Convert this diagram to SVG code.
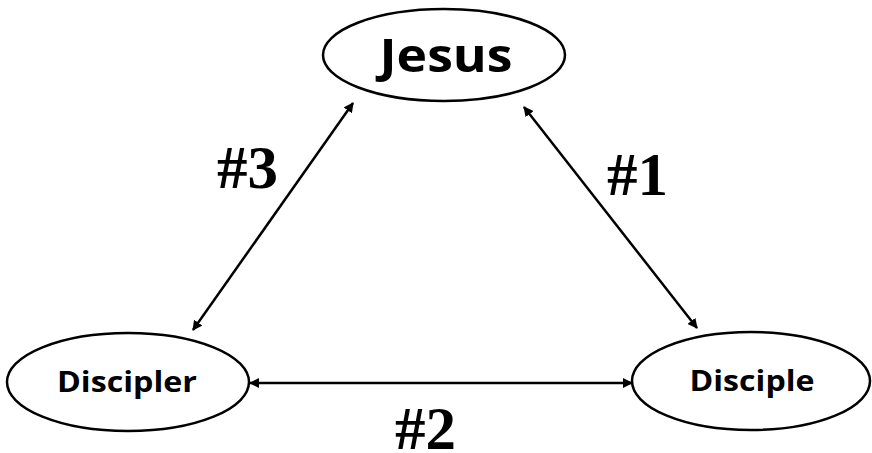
<svg xmlns="http://www.w3.org/2000/svg" width="872" height="453" viewBox="0 0 872 453">
<style>
.node{fill:#fff;stroke:#000;stroke-width:2.5}
.nt{font-family:"Open Sans","Liberation Sans",sans-serif;font-weight:bold;fill:#000;text-anchor:middle}
.lbl{font-family:"Liberation Serif","Times New Roman",serif;font-weight:bold;font-size:61px;fill:#000}
.conn{stroke:#000;stroke-width:2.5;fill:none;marker-start:url(#ah);marker-end:url(#ah)}
</style>
<defs>
<marker id="ah" viewBox="0 0 10 10" refX="9" refY="5" markerWidth="4" markerHeight="4" orient="auto-start-reverse" markerUnits="strokeWidth">
<path d="M0,0 L10,5 L0,10 z" fill="#000"/>
</marker>
</defs>
<g id="connectors">
<line class="conn" x1="353" y1="103" x2="193" y2="330"/>
<line class="conn" x1="524" y1="107" x2="697" y2="328"/>
<line class="conn" x1="250" y1="383" x2="632" y2="383"/>
</g>
<g id="jesus">
<ellipse class="node" cx="444" cy="55" rx="121" ry="46"/>
<text class="nt" x="446" y="72" font-size="46" textLength="133" lengthAdjust="spacingAndGlyphs">Jesus</text>
</g>
<g id="discipler">
<ellipse class="node" cx="128" cy="382" rx="121" ry="49"/>
<text class="nt" x="127" y="392" font-size="29" textLength="140" lengthAdjust="spacingAndGlyphs">Discipler</text>
</g>
<g id="disciple">
<ellipse class="node" cx="751" cy="381" rx="119" ry="49"/>
<text class="nt" x="752" y="391" font-size="29" textLength="125" lengthAdjust="spacingAndGlyphs">Disciple</text>
</g>
<g id="labels">
<text class="lbl" x="217" y="188">#3</text>
<text class="lbl" x="607" y="195">#1</text>
<text class="lbl" x="395" y="449">#2</text>
</g>
</svg>
